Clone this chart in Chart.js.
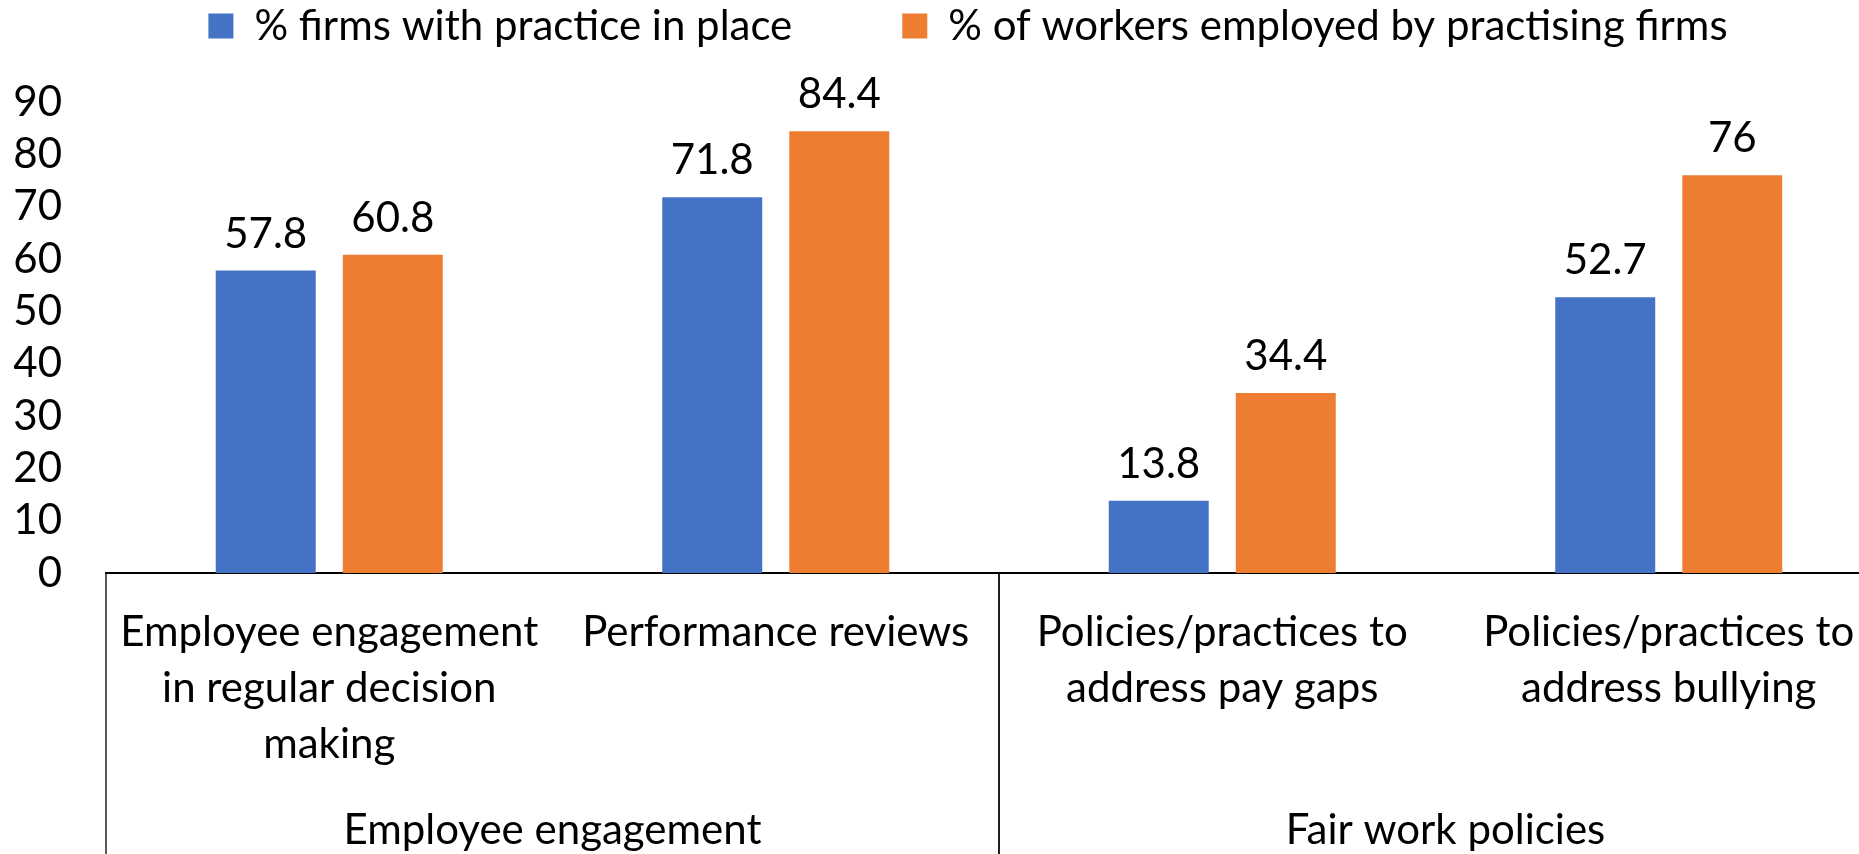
<!DOCTYPE html>
<html lang="en">
<head>
<meta charset="UTF-8">
<title>Employee engagement and fair work policies</title>
<script src="https://cdn.jsdelivr.net/npm/chart.js"></script>
<style>
  html, body { margin: 0; padding: 0; background: #fff; overflow: hidden; }
  /* wider than the window: the right end of the chart is cut off like in the original */
  .chart-box { width: 1936px; height: 854px; }
</style>
</head>
<body>
<div class="chart-box"><canvas id="practiceChart"></canvas></div>
<script>
// data
const categories = [
  ['Employee engagement', 'in regular decision', 'making'],
  ['Performance reviews'],
  ['Policies/practices to', 'address pay gaps'],
  ['Policies/practices to', 'address bullying']
];
const groups = ['Employee engagement', 'Fair work policies'];
const groupSizes = [2, 2];
const seriesNames = ['% firms with practice in place', '% of workers employed by practising firms'];
const firmsWithPractice = [57.8, 71.8, 13.8, 52.7];
const workersInPractisingFirms = [60.8, 84.4, 34.4, 76];
const yTicks = [0, 10, 20, 30, 40, 50, 60, 70, 80, 90];

const FONT = { family: 'Lato', size: 42 };
const TEXT = '#000';

// numbers above the bars
const valueLabels = {
  id: 'valueLabels',
  afterDatasetsDraw(chart) {
    const ctx = chart.ctx;
    ctx.save();
    ctx.font = FONT.size + 'px ' + FONT.family;
    ctx.fillStyle = TEXT;
    ctx.textAlign = 'center';
    ctx.textBaseline = 'alphabetic';
    chart.data.datasets.forEach((ds, i) => {
      chart.getDatasetMeta(i).data.forEach((bar, j) => {
        ctx.fillText(String(ds.data[j]), bar.x, bar.y - 23);
      });
    });
    ctx.restore();
  }
};

// second level of the category axis: group names and the dividing lines
const groupAxis = {
  id: 'groupAxis',
  afterDraw(chart) {
    const x = chart.scales.x;
    const area = chart.chartArea;
    const ctx = chart.ctx;
    const half = (x.getPixelForValue(1) - x.getPixelForValue(0)) / 2;
    ctx.save();
    ctx.strokeStyle = '#000';
    ctx.lineWidth = 1.3;
    ctx.font = FONT.size + 'px ' + FONT.family;
    ctx.fillStyle = TEXT;
    ctx.textAlign = 'center';
    ctx.textBaseline = 'middle';
    let start = 0;
    groups.forEach((g, k) => {
      const left = x.getPixelForValue(start) - half;
      const right = x.getPixelForValue(start + groupSizes[k] - 1) + half;
      ctx.beginPath();
      ctx.moveTo(left, area.bottom);
      ctx.lineTo(left, chart.height);
      ctx.moveTo(right, area.bottom);
      ctx.lineTo(right, chart.height);
      ctx.stroke();
      ctx.fillText(g, (left + right) / 2, area.bottom + 257);
      start += groupSizes[k];
    });
    ctx.restore();
  }
};

const ctx = document.getElementById('practiceChart').getContext('2d');
const practiceChart = new Chart(ctx, {
  type: 'bar',
  data: {
    labels: categories,
    datasets: [
      {
        label: seriesNames[0],
        data: firmsWithPractice,
        backgroundColor: '#4472C4',
        barPercentage: 0.787,
        categoryPercentage: 0.569
      },
      {
        label: seriesNames[1],
        data: workersInPractisingFirms,
        backgroundColor: '#ED7D31',
        barPercentage: 0.787,
        categoryPercentage: 0.569
      }
    ]
  },
  options: {
    responsive: true,
    maintainAspectRatio: false,
    animation: false,
    layout: { padding: { top: -105, left: 0, right: 0, bottom: 0 } },
    plugins: {
      tooltip: { enabled: false },
      legend: {
        position: 'top',
        labels: {
          font: FONT,
          color: TEXT,
          boxWidth: 25,
          boxHeight: 25,
          padding: 110
        }
      },
      // empty title used as a spacer between legend and plot
      title: {
        display: true,
        text: '',
        weight: 500,
        font: { size: 1, lineHeight: 1 },
        padding: { top: 0, bottom: 44 }
      }
    },
    scales: {
      x: {
        grid: { display: false, drawTicks: false },
        border: { display: true, color: '#000', width: 2 },
        ticks: { font: { family: FONT.family, size: FONT.size, lineHeight: 1.333 }, color: TEXT, padding: 31, maxRotation: 0, autoSkip: false },
        afterFit(scale) { scale.height = 281; }
      },
      y: {
        min: 0,
        max: 90,
        grid: { display: false, drawTicks: false },
        border: { display: false },
        ticks: { font: { family: FONT.family, size: FONT.size, lineHeight: 1 }, color: TEXT, padding: 44, autoSkip: false },
        afterBuildTicks(scale) { scale.ticks = yTicks.map(v => ({ value: v })); },
        afterFit(scale) { scale.width = 106; }
      },
      yRight: {
        position: 'right',
        grid: { display: false },
        border: { display: false },
        ticks: { display: false },
        afterFit(scale) { scale.width = 44; }
      }
    }
  },
  plugins: [valueLabels, groupAxis]
});
</script>
</body>
</html>
